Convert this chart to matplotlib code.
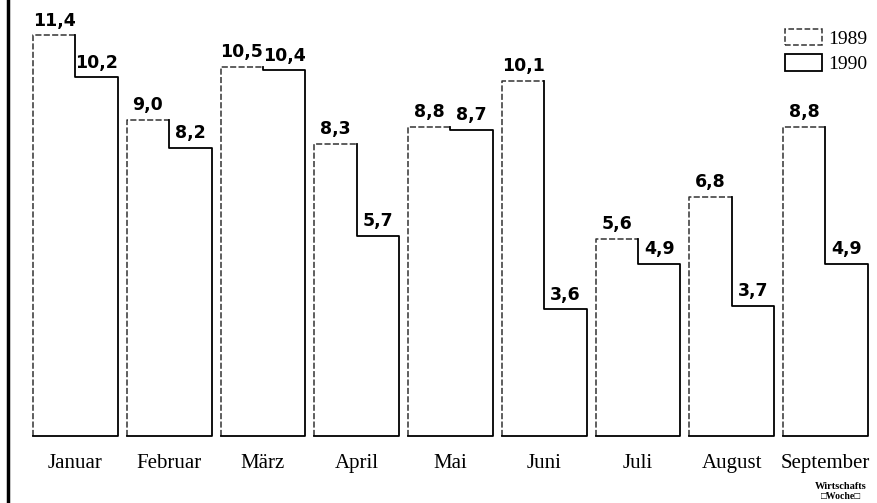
import numpy as np
import matplotlib.pyplot as plt
from matplotlib.patches import Patch

months = ["Januar", "Februar", "März", "April", "Mai", "Juni", "Juli", "August", "September"]
v1989 = [11.4, 9.0, 10.5, 8.3, 8.8, 10.1, 5.6, 6.8, 8.8]
v1990 = [10.2, 8.2, 10.4, 5.7, 8.7, 3.6, 4.9, 3.7, 4.9]
years = ["1989", "1990"]


def fmt(v):
    return f"{v:.1f}".replace(".", ",")


fig = plt.figure(figsize=(8.78, 5.03), dpi=100)
ax = fig.add_axes([0, 0, 1, 1])
ax.set_xlim(-0.805, 8.56)
ax.set_ylim(-1.91, 12.4)
ax.axis("off")

x = np.arange(len(months))
w = 0.453

# white bars, outline drawn as one step line per month
ax.bar(x - w / 2, v1989, w, color="white", lw=0)
ax.bar(x + w / 2, v1990, w, color="white", lw=0)

dash = (0, (4, 1.5))
for i in range(len(months)):
    a, b = v1989[i], v1990[i]
    l, r = x[i] - w, x[i] + w
    ax.plot([l, l, x[i]], [0, a, a], color="#333333", lw=1.1, ls=dash)
    ax.plot([x[i], x[i], r, r, l], [a, b, b, 0, 0], color="black", lw=1.3)
    ax.text(x[i] - w / 2, a + 0.16, fmt(a), ha="center", va="bottom",
            fontsize=12.5, fontweight="heavy", family="DejaVu Sans")
    ax.text(x[i] + w / 2, b + 0.16, fmt(b), ha="center", va="bottom",
            fontsize=12.5, fontweight="heavy", family="DejaVu Sans")
    ax.text(x[i], -0.78, months[i], ha="center", va="center",
            fontsize=15, family="Liberation Serif")

# left border line
ax.axvline(-0.72, color="black", lw=2.5)

handles = [Patch(facecolor="white", edgecolor="#333333", ls="--", lw=1.1),
           Patch(facecolor="white", edgecolor="black", lw=1.3)]
leg = ax.legend(handles, years, loc="upper left", bbox_to_anchor=(0.883, 0.962),
                frameon=False, borderpad=0, handlelength=1.9, handleheight=0.9,
                handletextpad=0.3, labelspacing=0.35,
                prop={"family": "Liberation Serif", "size": 14})

ax.text(0.958, 0.033, "Wirtschafts", transform=ax.transAxes, ha="center", va="center",
        fontsize=7.5, fontweight="bold", family="Liberation Serif")
ax.text(0.958, 0.012, "\u25a1Woche\u25a1", transform=ax.transAxes, ha="center", va="center",
        fontsize=7, fontweight="bold", family="Liberation Serif")

plt.savefig("out.png", dpi=100)
plt.close()
